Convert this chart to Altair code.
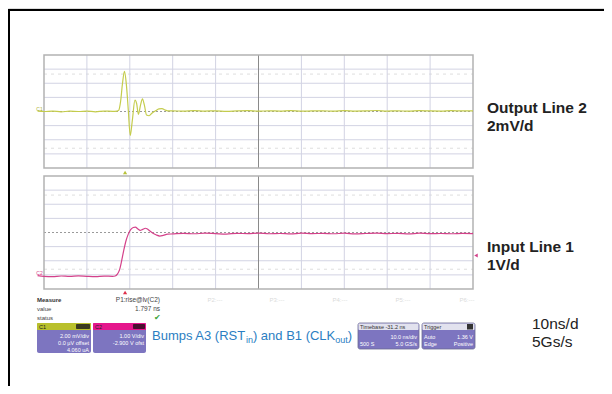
import altair as alt
import pandas as pd

# ---------------- data (time in ns, 10 ns/div; amplitude in divisions) ----------------
grid_t = [10, 20, 30, 40, 50, 60, 70, 80, 90]
grid_v = [-3, -2, -1, 1, 2, 3]
dash_v = [2.65, -2.6]

out_t = [-1.5, 0, 2, 4, 6, 8, 10, 12, 14, 16, 17.0,
         17.4, 17.85, 18.3, 18.76, 19.2, 19.65, 20.1, 20.6, 21.2, 21.6, 22.0, 22.5,
         22.95, 23.4, 23.9, 24.5, 25.2, 26.0, 26.8, 27.5, 28.3, 29.0,
         30, 32.5, 35, 37.5, 40, 42.5, 45, 47.5, 50, 52.5, 55, 57.5, 60, 62.5, 65,
         67.5, 70, 72.5, 75, 77.5, 80, 82.5, 85, 87.5, 90, 92.5, 95, 97.5, 100]
out_v = [0.02, 0.0, 0.03, -0.02, 0.02, 0.0, 0.03, -0.02, 0.03, 0.01, 0.03,
         0.08, 0.7, 2.0, 2.85, 1.9, 0.1, -1.7, -0.6, 0.8, 0.55, -0.2, 0.45,
         0.9, 0.45, -0.25, -0.3, -0.1, 0.05, 0.18, 0.2, 0.1, 0.04,
         0.05, 0.02, 0.06, 0.03, 0.05, 0.01, 0.04, 0.06, 0.02, 0.05, 0.03, 0.06, 0.02,
         0.04, 0.05, 0.02, 0.06, 0.03, 0.04, 0.07, 0.03, 0.05, 0.02, 0.06, 0.04, 0.03,
         0.06, 0.04, 0.05]

in_t = [-1.5, 0, 2, 4, 6, 8, 10, 12, 14, 16,
        16.6, 17.1, 17.6, 18.1, 18.6, 19.1, 19.6, 20.2, 20.8, 21.3, 21.9, 22.4,
        23.0, 23.6, 24.1, 24.7, 25.4, 26.2, 27.0, 27.8, 28.8,
        30, 32.5, 35, 37.5, 40, 42.5, 45, 47.5, 50, 52.5, 55, 57.5, 60, 62.5, 65,
        67.5, 70, 72.5, 75, 77.5, 80, 82.5, 85, 87.5, 90, 92.5, 95, 97.5, 100]
in_v = [-3.05, -3.1, -3.12, -3.08, -3.11, -3.07, -3.1, -3.12, -3.09, -3.1,
        -3.08, -2.95, -2.65, -2.0, -1.25, -0.6, -0.15, 0.2, 0.35, 0.38, 0.25, 0.15,
        0.22, 0.3, 0.25, 0.1, -0.05, -0.18, -0.25, -0.2, -0.12,
        -0.1, -0.06, -0.09, -0.05, -0.08, -0.11, -0.06, -0.08, -0.04, -0.09, -0.07,
        -0.1, -0.05, -0.08, -0.06, -0.09, -0.05, -0.1, -0.07, -0.04, -0.08, -0.06,
        -0.1, -0.05, -0.08, -0.07, -0.09, -0.06, -0.08]

trig_t = [18.9]
trig_level = [-1.62]
meas_slots = ["P2:---", "P3:---", "P4:---", "P5:---", "P6:---"]

# ---------------- layout helpers ----------------
OFF = 8
def px(v):
    return v - OFF

one = pd.DataFrame({"k": [0]})
FONT = "Liberation Sans"

xs = alt.Scale(domain=[0, 100], range=[px(44), px(473)])
ys_up = alt.Scale(domain=[-4, 4], range=[px(168), px(55)])
ys_lo = alt.Scale(domain=[-4, 4], range=[px(289), px(176)])

GRID = "#d2d3e3"


def panel(ys, tt, vv, color):
    vg = pd.DataFrame({"t": grid_t, "lo": [-4] * len(grid_t), "hi": [4] * len(grid_t)})
    hg = pd.DataFrame({"v": grid_v, "a": [0] * len(grid_v), "b": [100] * len(grid_v)})
    dg = pd.DataFrame({"v": dash_v, "a": [0] * len(dash_v), "b": [100] * len(dash_v)})
    cg = pd.DataFrame({"v": [0], "a": [0], "b": [100]})
    fr = pd.DataFrame({"a": [0], "b": [100], "lo": [-4], "hi": [4]})
    tr = pd.DataFrame({"t": tt, "v": vv})
    layers = [
        alt.Chart(hg).mark_rule(strokeWidth=1, color=GRID).encode(
            x=alt.X("a:Q", scale=xs, axis=None), x2="b:Q",
            y=alt.Y("v:Q", scale=ys, axis=None)),
        alt.Chart(dg).mark_rule(strokeWidth=1, color="#dedede", strokeDash=[3, 4]).encode(
            x=alt.X("a:Q", scale=xs, axis=None), x2="b:Q",
            y=alt.Y("v:Q", scale=ys, axis=None)),
        alt.Chart(vg).mark_rule(strokeWidth=1).encode(
            x=alt.X("t:Q", scale=xs, axis=None),
            y=alt.Y("lo:Q", scale=ys, axis=None), y2="hi:Q",
            color=alt.condition("datum.t == 50", alt.value("#8a8a8a"), alt.value(GRID))),
        alt.Chart(cg).mark_rule(strokeWidth=1, color="#9a9a9a", strokeDash=[2, 2]).encode(
            x=alt.X("a:Q", scale=xs, axis=None), x2="b:Q",
            y=alt.Y("v:Q", scale=ys, axis=None)),
        alt.Chart(fr).mark_rect(fillOpacity=0, stroke="#b2b2b2", strokeWidth=1.5).encode(
            x=alt.X("a:Q", scale=xs, axis=None), x2="b:Q",
            y=alt.Y("lo:Q", scale=ys, axis=None), y2="hi:Q"),
        alt.Chart(tr).mark_line(strokeWidth=1.2, color=color, interpolate="monotone").encode(
            x=alt.X("t:Q", scale=xs, axis=None),
            y=alt.Y("v:Q", scale=ys, axis=None)),
    ]
    return layers


def txt(s, x, y, size=6, color="#333", align="left", weight="normal", baseline="middle"):
    return alt.Chart(one).mark_text(text=s, align=align, baseline=baseline, fontSize=size,
                                    fontWeight=weight, color=color, font=FONT).encode(
        x=alt.value(px(x)), y=alt.value(px(y)))


def box(x1, y1, x2, y2, fill, stroke=None, r=0):
    kw = {"fill": fill, "cornerRadius": r}
    if stroke:
        kw["stroke"] = stroke
        kw["strokeWidth"] = 0.8
    return alt.Chart(one).mark_rect(**kw).encode(
        x=alt.value(px(x1)), x2=alt.value(px(x2)), y=alt.value(px(y1)), y2=alt.value(px(y2)))


OUT_C = "#c4cc4c"
IN_C = "#d4418a"
PURPLE = "#7d75c0"

W, H = 596, 378

layers = []
# outer frame
layers.append(alt.Chart(one).mark_rule(color="black", strokeWidth=2).encode(
    x=alt.value(1), y=alt.value(1), y2=alt.value(H)))
layers.append(alt.Chart(one).mark_rule(color="black", strokeWidth=2).encode(
    x=alt.value(0), x2=alt.value(W), y=alt.value(2)))

layers += panel(ys_up, out_t, out_v, OUT_C)
layers += panel(ys_lo, in_t, in_v, IN_C)

# trigger markers
tdf = pd.DataFrame({"t": trig_t})
layers.append(alt.Chart(tdf).mark_point(shape="triangle-up", filled=True, size=18, color="#b8c23a", opacity=1).encode(
    x=alt.X("t:Q", scale=xs, axis=None), y=alt.value(px(172.5))))
layers.append(alt.Chart(tdf).mark_point(shape="triangle-up", filled=True, size=18, color="#e0304a", opacity=1).encode(
    x=alt.X("t:Q", scale=xs, axis=None), y=alt.value(px(292.5))))
ldf = pd.DataFrame({"v": trig_level})
layers.append(alt.Chart(ldf).mark_point(shape="triangle-left", filled=True, size=16, color=IN_C, opacity=1).encode(
    x=alt.value(px(476)), y=alt.Y("v:Q", scale=ys_lo, axis=None)))
# channel markers on left
layers.append(txt("C1", 39.5, 109, size=5, color="#aab030", align="center"))
layers.append(txt("C2", 39.5, 272.5, size=5, color=IN_C, align="center"))

# measure area
layers.append(txt("Measure", 37, 300, size=6, weight="bold", color="#333"))
layers.append(txt("value", 37, 309, size=6, color="#444"))
layers.append(txt("status", 37, 317.5, size=6, color="#444"))
layers.append(txt("P1:rise@lv(C2)", 160, 300, size=6.5, color="#444", align="right"))
layers.append(txt("1.797 ns", 160, 309, size=6.5, color="#444", align="right"))
layers.append(txt("\u2714", 157, 317.5, size=8, color="#3aa53a", align="center"))
for s, xx in zip(meas_slots, [215, 277, 340, 403, 467]):
    layers.append(txt(s, xx, 300, size=6, color="#dadada", align="center"))

# channel boxes
layers.append(box(37, 323, 91, 353, PURPLE, r=2))
layers.append(box(37, 323, 91, 330, "#b9c02c", r=1))
layers.append(box(76, 324, 90, 329, "#3a3a20", r=1))
layers.append(txt("C1", 39, 326.6, size=5.5, color="#222"))
layers.append(txt("2.00 mV/div", 89, 335.5, size=5.5, color="white", align="right"))
layers.append(txt("0.0 \u00b5V offset", 89, 342.5, size=5.5, color="white", align="right"))
layers.append(txt("4.060 uA", 89, 350, size=5.5, color="white", align="right"))

layers.append(box(93, 323, 146, 353, PURPLE, r=2))
layers.append(box(93, 323, 146, 330, "#e5168c", r=1))
layers.append(box(133, 324, 145, 329, "#4a1030", r=1))
layers.append(txt("C2", 95, 326.6, size=5.5, color="#222"))
layers.append(txt("1.00 V/div", 144, 335.5, size=5.5, color="white", align="right"))
layers.append(txt("-2.900 V ofst", 144, 342.5, size=5.5, color="white", align="right"))

# blue caption with subscripts
BLUE = "#2b7ec2"
layers.append(txt("Bumps A3 (RST", 152, 339.8, size=13, color=BLUE, baseline="alphabetic"))
layers.append(txt("in", 245.9, 342.8, size=9, color=BLUE, baseline="alphabetic"))
layers.append(txt(") and B1 (CLK", 252.9, 339.8, size=13, color=BLUE, baseline="alphabetic"))
layers.append(txt("out", 335.3, 342.8, size=9, color=BLUE, baseline="alphabetic"))
layers.append(txt(")", 347.8, 339.8, size=13, color=BLUE, baseline="alphabetic"))

# timebase / trigger boxes
layers.append(box(358, 323, 419, 349, PURPLE, stroke="#6a6a90", r=2))
layers.append(box(358.5, 323.5, 418.5, 330, "#e2e2ee", r=1))
layers.append(txt("Timebase -31.2 ns", 360, 326.8, size=5.5, color="#333"))
layers.append(txt("10.0 ns/div", 417, 336.5, size=5.5, color="white", align="right"))
layers.append(txt("500 S", 360, 344, size=5.5, color="white"))
layers.append(txt("5.0 GS/s", 417, 344, size=5.5, color="white", align="right"))

layers.append(box(422, 323, 475, 349, PURPLE, stroke="#6a6a90", r=2))
layers.append(box(422.5, 323.5, 474.5, 330, "#e2e2ee", r=1))
layers.append(box(467, 324, 473, 329.5, "#333333", r=0))
layers.append(txt("Trigger", 424, 326.8, size=5.5, color="#333"))
layers.append(txt("Auto", 424, 336.5, size=5.5, color="white"))
layers.append(txt("1.36 V", 473, 336.5, size=5.5, color="white", align="right"))
layers.append(txt("Edge", 424, 344, size=5.5, color="white"))
layers.append(txt("Positive", 473, 344, size=5.5, color="white", align="right"))

# right-hand labels
DARK = "#222222"
layers.append(txt("Output Line 2", 487, 108.3, size=15.5, weight="bold", color=DARK))
layers.append(txt("2mV/d", 487, 125.5, size=15.5, weight="bold", color=DARK))
layers.append(txt("Input Line 1", 487, 246.7, size=15.5, weight="bold", color=DARK))
layers.append(txt("1V/d", 487, 265, size=15.5, weight="bold", color=DARK))
layers.append(txt("10ns/d", 532, 324, size=15.5, color=DARK))
layers.append(txt("5Gs/s", 532, 341.7, size=15.5, color=DARK))

chart = alt.layer(*layers).resolve_scale(y="independent").properties(
    width=W, height=H, padding=0,
    autosize=alt.AutoSizeParams(type="none"),
).configure_view(stroke=None).configure(background="white")

chart.save("out.html", embed_options={"renderer": "svg", "actions": False})
